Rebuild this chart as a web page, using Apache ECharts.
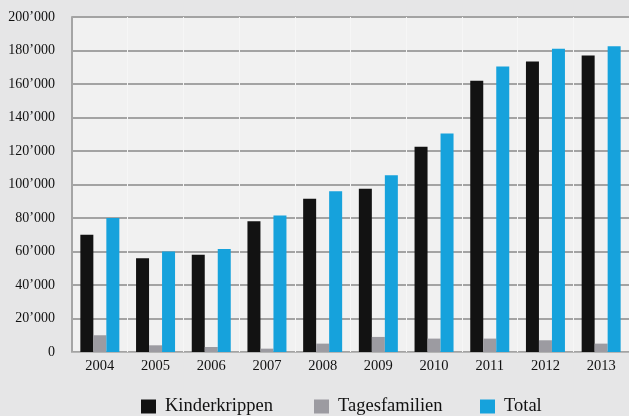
<!DOCTYPE html>
<html><head><meta charset="utf-8">
<script src="https://cdn.jsdelivr.net/npm/echarts@6/dist/echarts.min.js"></script>
<style>html,body{margin:0;padding:0;background:#e6e6e7;}#c{width:629px;height:416px;}</style>
</head><body><div id="c"></div>
<script>
var categories = ['2004','2005','2006','2007','2008','2009','2010','2011','2012','2013'];
var kinderkrippen = [70000, 56000, 58000, 78000, 91500, 97500, 122500, 162000, 173500, 177000];
var tagesfamilien = [10000, 4000, 3000, 2000, 5000, 9000, 8000, 8000, 7000, 5000];
var total = [80000, 60000, 61500, 81500, 96000, 105500, 130500, 170500, 181000, 182500];
var yTicks = [0, 20000, 40000, 60000, 80000, 100000, 120000, 140000, 160000, 180000, 200000];
var seriesNames = ['Kinderkrippen', 'Tagesfamilien', 'Total'];

function fmt(v){
  if (v === 0) return '0';
  var s = String(v);
  return s.slice(0, s.length-3) + '\u2019' + s.slice(s.length-3);
}
var font = '"Liberation Serif", "DejaVu Serif", serif';
var legendLeft = [141, 314, 480];
var legends = seriesNames.map(function(n, i){
  return {
    top: 397, left: legendLeft[i], padding: 0, itemWidth: 15, itemHeight: 14, icon: 'rect',
    textStyle: {fontFamily: font, fontSize: 18.5, lineHeight: 16, color: '#111', padding: [0,0,0,4]},
    data: [n]
  };
});
var chart = echarts.init(document.getElementById('c'), null, {renderer:'canvas'});
chart.setOption({
  backgroundColor: '#e6e6e7',
  animation: false,
  textStyle: {fontFamily: font},
  grid: {left: 72, top: 17, width: 560, height: 335, show: true, backgroundColor: '#f1f1f1', borderWidth: 0},
  legend: legends,
  xAxis: {
    type: 'category', data: categories,
    axisLine: {show: true, lineStyle: {color: '#b5b5b5', width: 1}},
    axisTick: {show: false},
    axisLabel: {fontFamily: font, fontSize: 14.5, color: '#111', margin: 7},
    splitLine: {show: true, lineStyle: {color: '#f6f6f6', width: 1}}
  },
  yAxis: {
    type: 'value', min: yTicks[0], max: yTicks[yTicks.length-1], interval: 20000,
    axisLine: {show: true, lineStyle: {color: '#a5a5a5', width: 2}},
    axisTick: {show: false},
    axisLabel: {fontFamily: font, fontSize: 14, color: '#111', margin: 17, formatter: fmt},
    splitLine: {lineStyle: {color: '#a3a3a3', width: 2}}
  },
  series: [
    {name: seriesNames[0], type: 'bar', data: kinderkrippen, barWidth: 13, barGap: '0%', itemStyle: {color: '#121212'}},
    {name: seriesNames[1], type: 'bar', data: tagesfamilien, barWidth: 13, barGap: '0%', itemStyle: {color: '#9c9ba1'}},
    {name: seriesNames[2], type: 'bar', data: total, barWidth: 13, barGap: '0%', itemStyle: {color: '#16a2dc'}}
  ]
});
</script></body></html>
